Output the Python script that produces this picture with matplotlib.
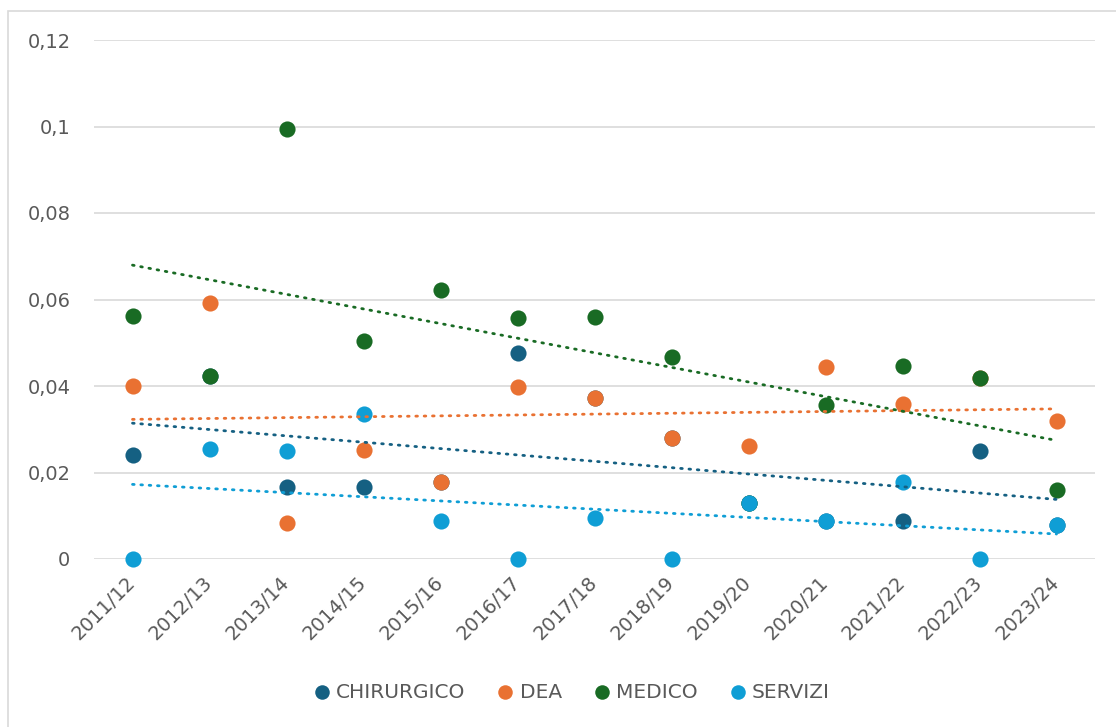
import matplotlib
matplotlib.use('Agg')
import matplotlib.pyplot as plt
from matplotlib.patches import Rectangle
from matplotlib.ticker import FuncFormatter
import numpy as np

plt.rcParams['font.family'] = ['DejaVu Sans']

# anni accademici
anni = ['2011/12', '2012/13', '2013/14', '2014/15', '2015/16', '2016/17', '2017/18',
        '2018/19', '2019/20', '2020/21', '2021/22', '2022/23', '2023/24']

# valori per dipartimento
chirurgico = [0.0240, 0.0424, 0.0166, 0.0166, 0.0178, 0.0476, 0.0372,
              0.0280, 0.0130, 0.0088, 0.0088, 0.0250, 0.0079]
dea = [0.0400, 0.0592, 0.0083, 0.0252, 0.0178, 0.0398, 0.0372,
       0.0280, 0.0261, 0.0444, 0.0358, 0.0418, 0.0319]
medico = [0.0562, 0.0423, 0.0994, 0.0504, 0.0622, 0.0557, 0.0560,
          0.0467, 0.0130, 0.0356, 0.0446, 0.0418, 0.0160]
servizi = [0.0, 0.0254, 0.0250, 0.0335, 0.0088, 0.0, 0.0095,
           0.0, 0.0130, 0.0088, 0.0178, 0.0, 0.0079]

serie = [('CHIRURGICO', chirurgico, '#156082'),
         ('DEA', dea, '#E97132'),
         ('MEDICO', medico, '#196B24'),
         ('SERVIZI', servizi, '#0F9ED5')]

fig = plt.figure(figsize=(11.16, 7.27), dpi=100)
ax = fig.add_axes([94 / 1116, 168 / 727, 1001 / 1116, 519 / 727])

x = np.arange(1, len(anni) + 1)

# punti
for nome, valori, colore in serie:
    ax.scatter(x, valori, s=135, color=colore, label=nome, zorder=3,
               clip_on=False, linewidths=0)

# linee di tendenza (regressione lineare), sopra i punti
for nome, valori, colore in serie:
    m, q = np.polyfit(x, valori, 1)
    ax.plot([x[0], x[-1]], [m * x[0] + q, m * x[-1] + q], color=colore,
            lw=2.0, linestyle=(0, (0.6, 2.4)), dash_capstyle='round', zorder=4)

ax.set_xlim(0.5, len(anni) + 0.5)
ax.set_ylim(0, 0.12)
ax.set_yticks(np.arange(0, 0.121, 0.02))
ax.yaxis.set_major_formatter(FuncFormatter(lambda v, p: ('%g' % round(v, 3)).replace('.', ',')))
ax.set_xticks(x)
ax.set_xticklabels(anni, rotation=45, ha='right', va='center', rotation_mode='anchor')

ax.grid(axis='y', color='#d9d9d9', lw=1.2, zorder=0)
ax.set_axisbelow(True)
for s in ax.spines.values():
    s.set_visible(False)
ax.tick_params(axis='both', length=0, labelsize=14, labelcolor='#595959')
ax.tick_params(axis='y', pad=17)
ax.tick_params(axis='x', pad=15)

# bordo dell'area del grafico
fig.patches.append(Rectangle((8 / 1116, -0.1), 1.2, 1.1 - 11 / 727, transform=fig.transFigure,
                             fill=False, edgecolor='#d9d9d9', lw=1.2))

fig.legend(loc='center', bbox_to_anchor=(0.507, 1 - 692 / 727), ncol=4, frameon=False,
           fontsize=14.5, labelcolor='#595959', handletextpad=-0.3, columnspacing=1.0,
           markerscale=0.9, scatterpoints=1)

fig.savefig('out.png', dpi=100)
